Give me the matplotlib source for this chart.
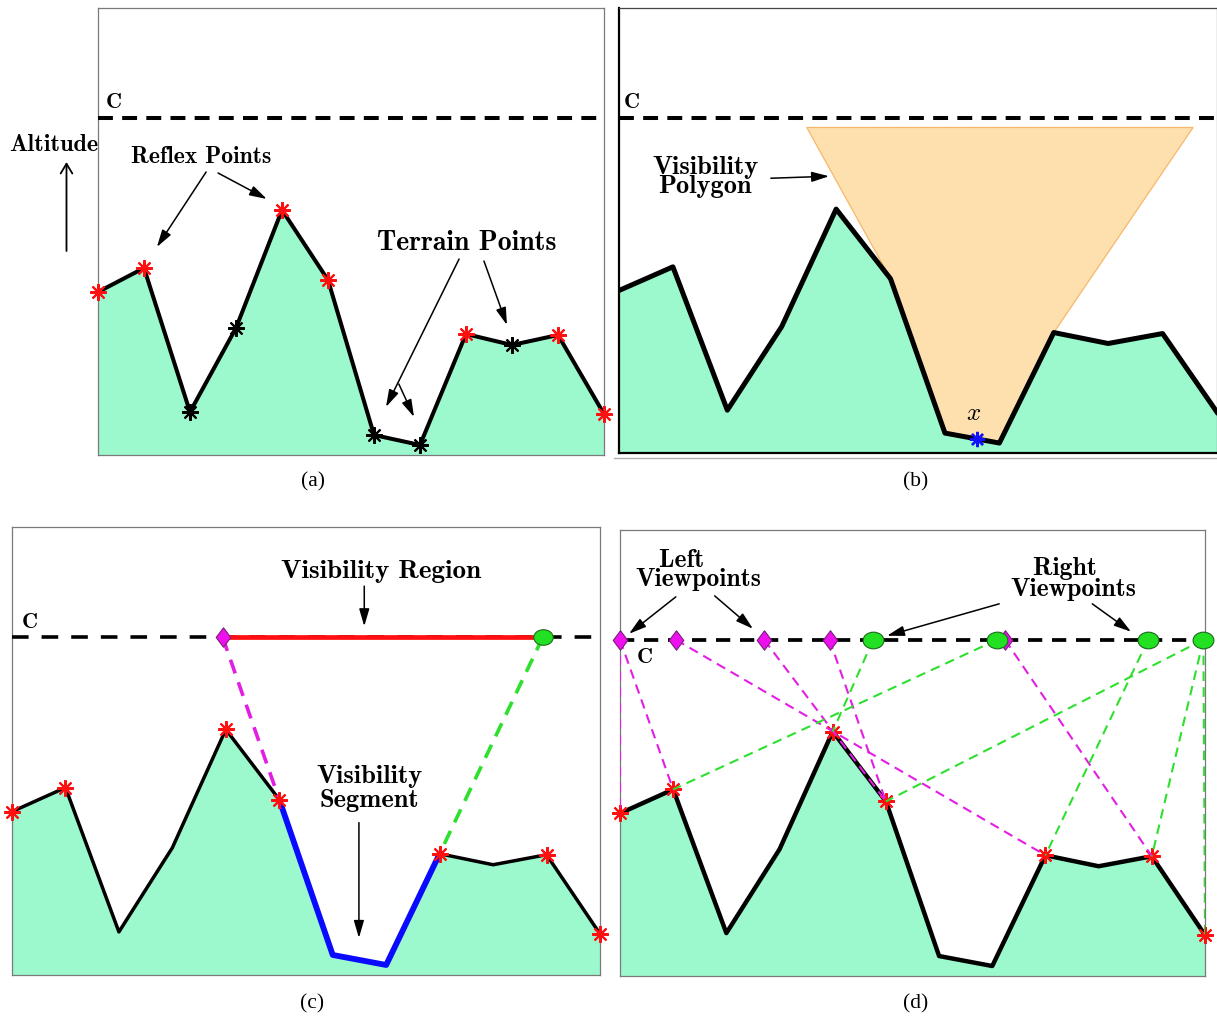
import os
import numpy as np
import matplotlib
matplotlib.use("Agg")
import matplotlib.pyplot as plt
from matplotlib import font_manager
from matplotlib.path import Path
from matplotlib.lines import Line2D

# ---------------------------------------------------------------- data
terrain_x = np.arange(12)
terrain_alt = [163, 187, 43, 127, 245, 175, 20, 10, 121, 110, 120, 41]
ceiling_alt = 337          # altitude of the flight line C
top_alt = 447              # upper limit of every panel
reflex_idx = [0, 1, 4, 5, 8, 10, 11]
plain_idx = [2, 3, 6, 7, 9]

# (b) guard and its visibility polygon
guard_x = 6.58
poly_top_alt = 327
poly_top_x = [3.46, 10.56]
poly_terrain_idx = [5, 6, 7, 8]

# (c) visibility region on C and the segment it sees
region_x = [3.94, 9.93]
region_sight = [5, 8]
segment_idx = [5, 6, 7, 8]

# (d) viewpoints on C and their sight lines (viewpoint index, terrain index)
left_vp_x = [0.0, 1.05, 2.71, 3.94, 7.24]
right_vp_x = [4.76, 7.09, 9.93, 10.97]
left_sight = [(0, 0), (0, 1), (1, 8), (2, 5), (3, 5), (4, 10)]
right_sight = [(0, 4), (1, 1), (2, 8), (3, 5), (3, 10), (3, 11)]

# ---------------------------------------------------------------- style
ttf_dir = os.path.join(matplotlib.get_data_path(), "fonts", "ttf")
font_manager.fontManager.addfont(os.path.join(ttf_dir, "cmb10.ttf"))
LABEL = "cmb10"
plt.rcParams["mathtext.fontset"] = "cm"

FILL = "#9bf9cd"
RED = "#ff1010"
MAGENTA = "#e31ee3"
GREEN = "#2ee02e"
ASTER = (8, 2, 0)
DIAMOND = Path([(0, 1), (0.75, 0), (0, -1), (-0.75, 0), (0, 1)],
               [Path.MOVETO, Path.LINETO, Path.LINETO, Path.LINETO, Path.CLOSEPOLY])
circ = Path.unit_circle()
ELLIPSE = Path(circ.vertices * np.array([1.0, 0.8]), circ.codes)

W, H = 1217, 1021
fig = plt.figure(figsize=(W / 100, H / 100), dpi=100)
fig.patch.set_facecolor("white")

xs = np.asarray(terrain_x, dtype=float)
alts = np.asarray(terrain_alt, dtype=float)


def make_ax(x0, y0, x1, y1):
    ax = fig.add_axes([x0 / W, 1 - y1 / H, (x1 - x0) / W, (y1 - y0) / H])
    ax.set_xlim(0, 11)
    ax.set_ylim(0, top_alt)
    ax.set_xticks([])
    ax.set_yticks([])
    for s in ax.spines.values():
        s.set_color("#7a7a7a")
        s.set_linewidth(0.9)
    return ax


def terrain(ax, lw):
    ax.fill_between(xs, 0, alts, color=FILL, lw=0, zorder=1)
    ax.plot(xs, alts, color="k", lw=lw, zorder=4, solid_joinstyle="round")


def ceiling(ax, lw, dashes):
    ax.plot([0, 11], [ceiling_alt, ceiling_alt], color="k", lw=lw,
            dashes=dashes, zorder=3, dash_capstyle="butt")


def stars(ax, idx, color, ms=12, mew=1.5, z=6):
    ax.plot(xs[idx], alts[idx], ls="none", marker=ASTER, ms=ms, mew=mew,
            color=color, zorder=z, clip_on=False)


def arrow(ax, start, end, style="-|>,head_length=0.75,head_width=0.22", lw=1.1):
    ax.annotate("", xy=end, xytext=start, xycoords="data", textcoords="data",
                arrowprops=dict(arrowstyle=style, color="k", lw=lw,
                                shrinkA=0, shrinkB=0, mutation_scale=14),
                annotation_clip=False)


def label(ax, x, y, s, size=18.5, **kw):
    ax.text(x, y, s, fontfamily=LABEL, fontsize=size, ha="center",
            va="center", color="k", clip_on=False, **kw)


# ---------------------------------------------------------------- (a)
ax = make_ax(98, 8, 604, 455)
terrain(ax, 2.9)
ceiling(ax, 2.9, (3.7, 2.3))
stars(ax, reflex_idx, RED)
stars(ax, plain_idx, "k")
label(ax, 0.35, 352, "C", size=16)
label(ax, 2.24, 298, "Reflex Points", size=17)
arrow(ax, (2.35, 283), (1.28, 208))
arrow(ax, (2.61, 282), (3.67, 256))
label(ax, 8.02, 212, "Terrain Points", size=20)
arrow(ax, (7.85, 196), (6.26, 48))
arrow(ax, (6.54, 71), (6.87, 38))
arrow(ax, (8.39, 194), (8.89, 130))
label(ax, -0.96, 310, "Altitude", size=17.5)
arrow(ax, (-0.685, 204), (-0.685, 293), style="->,head_length=0.5,head_width=0.3", lw=1.3)

# ---------------------------------------------------------------- (b)
ax = make_ax(618.5, 8, 1217, 453)
for side in ("left", "bottom"):
    ax.spines[side].set_color("k")
    ax.spines[side].set_linewidth(1.6)
ax.spines["top"].set_color("#444444")
terrain(ax, 3.6)
ceiling(ax, 2.9, (3.7, 2.3))
poly_x = [poly_top_x[0]] + [xs[i] for i in poly_terrain_idx] + [poly_top_x[1]]
poly_y = [poly_top_alt] + [alts[i] for i in poly_terrain_idx] + [poly_top_alt]
ax.fill(poly_x, poly_y, facecolor="#fde0ae", edgecolor="#f7b86a", lw=0.9, zorder=2)
guard_alt = np.interp(guard_x, xs, alts)
ax.plot([guard_x], [guard_alt], ls="none", marker=ASTER, ms=11, mew=1.7,
        color="#1010ff", zorder=7)
ax.text(guard_x - 0.05, 40, "$x$", fontsize=18, ha="center", va="center")
label(ax, 0.25, 352, "C", size=16)
label(ax, 1.59, 277, "Visibility\nPolygon", size=19, linespacing=0.8)
arrow(ax, (2.80, 276), (3.87, 278))
fig.add_artist(Line2D([614 / W, 1.0], [1 - 458 / H] * 2, color="#b0b0b0", lw=1))

# ---------------------------------------------------------------- (c)
ax = make_ax(12, 527, 600, 975)
terrain(ax, 2.5)
ceiling(ax, 2.6, (4.6, 3.6))
ax.plot(xs[segment_idx], alts[segment_idx], color="#0a0aff", lw=4.2,
        zorder=5, solid_capstyle="round")
ax.plot(region_x, [ceiling_alt, ceiling_alt], color=RED, lw=3.4, zorder=5)
ax.plot([region_x[0], xs[region_sight[0]]], [ceiling_alt, alts[region_sight[0]]],
        color=MAGENTA, lw=2.6, dashes=(4, 2.6), zorder=5)
ax.plot([region_x[1], xs[region_sight[1]]], [ceiling_alt, alts[region_sight[1]]],
        color=GREEN, lw=2.6, dashes=(4, 2.6), zorder=5)
stars(ax, reflex_idx, RED)
ax.plot([region_x[0]], [ceiling_alt], ls="none", marker=DIAMOND, ms=14,
        mfc="#ee10ee", mec="#7a207a", mew=0.8, zorder=8)
ax.plot([region_x[1]], [ceiling_alt], ls="none", marker=ELLIPSE, ms=14,
        mfc="#22e022", mec="#1a6a1a", mew=0.8, zorder=8)
label(ax, 0.34, 352, "C", size=16)
label(ax, 6.90, 403, "Visibility Region", size=19.5)
arrow(ax, (6.59, 388), (6.59, 348))
label(ax, 6.68, 186, "Visibility\nSegment", size=19, linespacing=1.05)
arrow(ax, (6.49, 152), (6.49, 37))

# ---------------------------------------------------------------- (d)
ax = make_ax(620, 530, 1205, 976)
terrain(ax, 3.2)
ceiling(ax, 2.7, (3.8, 2.6))
for v, t in left_sight:
    ax.plot([left_vp_x[v], xs[t]], [ceiling_alt, alts[t]], color=MAGENTA,
            lw=1.5, dashes=(4.6, 3.0), zorder=5)
for v, t in right_sight:
    ax.plot([right_vp_x[v], xs[t]], [ceiling_alt, alts[t]], color=GREEN,
            lw=1.5, dashes=(4.6, 3.0), zorder=5)
stars(ax, reflex_idx, RED, z=4.5)
ax.plot(left_vp_x, [ceiling_alt] * len(left_vp_x), ls="none", marker=DIAMOND,
        ms=14, mfc="#ee10ee", mec="#7a207a", mew=0.8, zorder=8, clip_on=False)
ax.plot(right_vp_x, [ceiling_alt] * len(right_vp_x), ls="none", marker=ELLIPSE,
        ms=15, mfc="#22e022", mec="#1a6a1a", mew=0.8, zorder=9, clip_on=False)
label(ax, 0.47, 319, "C", size=16)
label(ax, 1.47, 407, "Left    \nViewpoints", size=18.5, linespacing=0.8)
arrow(ax, (1.05, 380), (0.17, 343))
arrow(ax, (1.78, 381), (2.50, 348))
label(ax, 8.52, 398, "Right  \nViewpoints", size=18.5, linespacing=0.88)
arrow(ax, (7.13, 373), (5.02, 341))
arrow(ax, (8.88, 373), (9.61, 345))

# ---------------------------------------------------------------- captions
for (cx, cy), cap in zip([(313, 482), (916, 482), (312, 1004), (916, 1004)],
                         ["(a)", "(b)", "(c)", "(d)"]):
    fig.text(cx / W, 1 - cy / H, cap, fontfamily="Liberation Serif",
             fontsize=15.5, ha="center", va="center")

fig.savefig("out.png", dpi=100, facecolor="white")
